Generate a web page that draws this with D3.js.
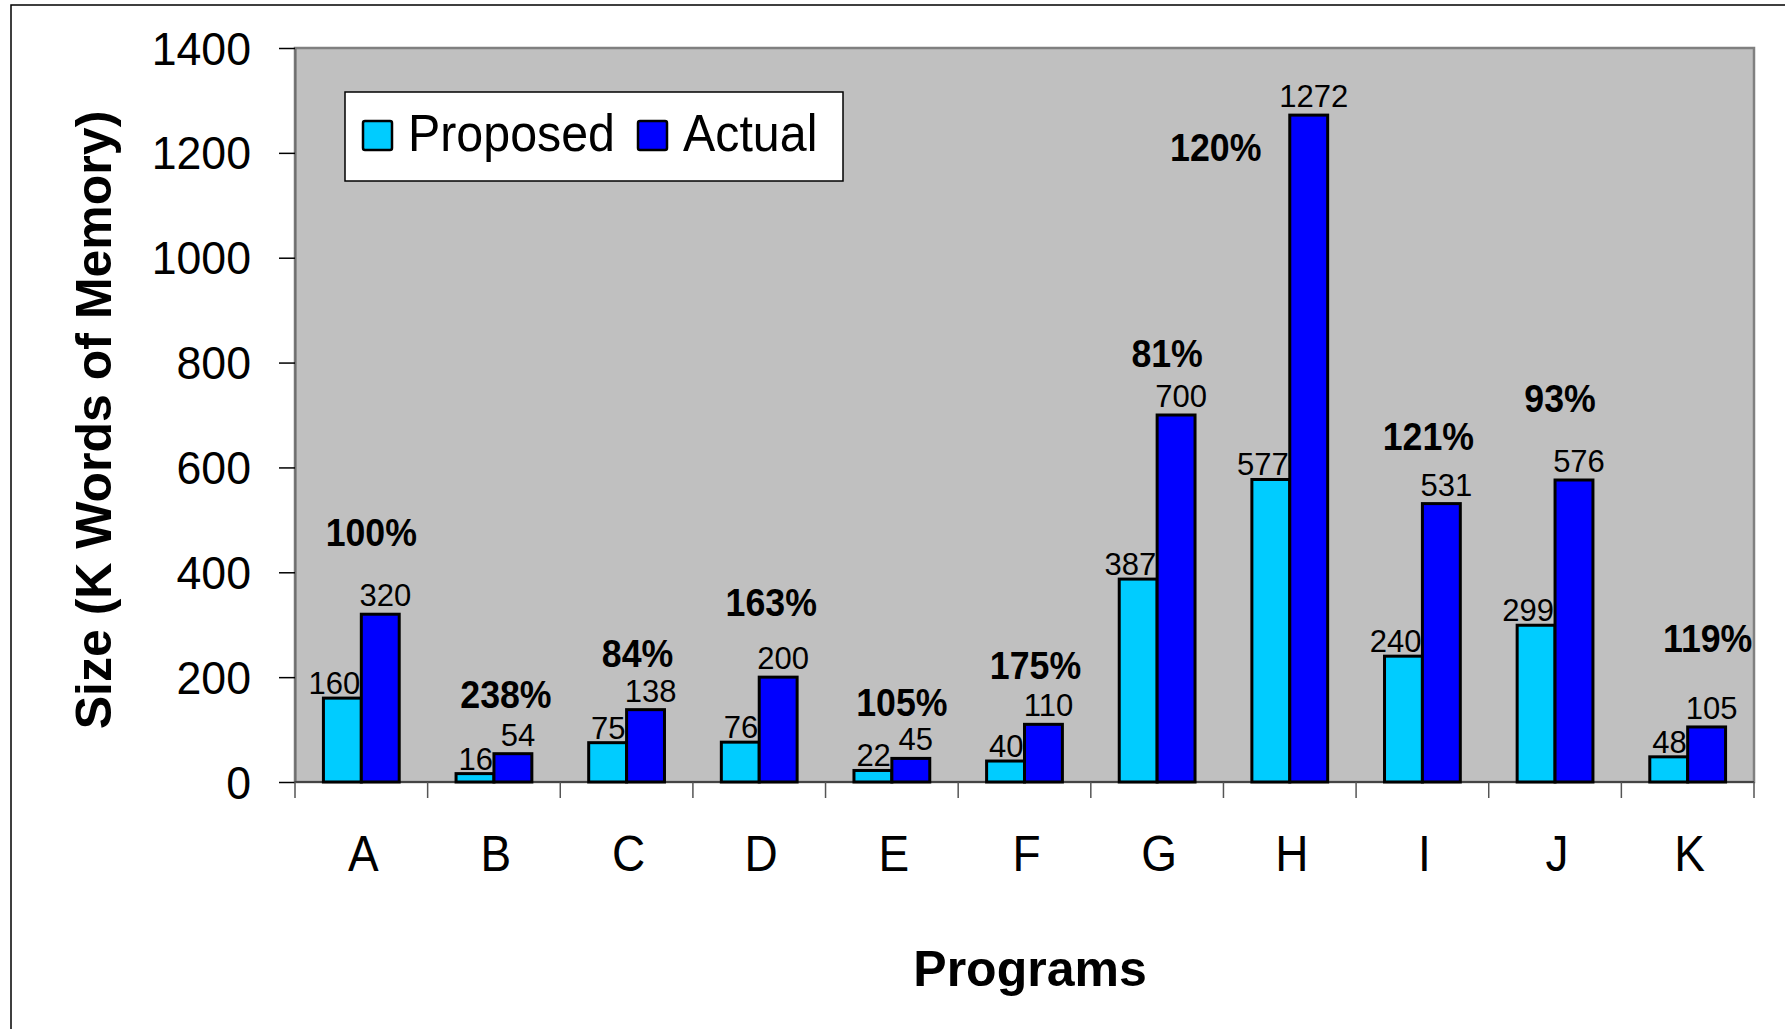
<!DOCTYPE html>
<html>
<head>
<meta charset="utf-8">
<script src="https://cdn.jsdelivr.net/npm/d3@7"></script>
<style>
  html, body { margin: 0; padding: 0; background: #fff; }
  svg { display: block; }
</style>
</head>
<body>
<svg id="chart" width="1785" height="1029"></svg>
<script>
// ---- data ----
const programs = ["A", "B", "C", "D", "E", "F", "G", "H", "I", "J", "K"];
const proposed = [160, 16, 75, 76, 22, 40, 387, 577, 240, 299, 48];
const actual   = [320, 54, 138, 200, 45, 110, 700, 1272, 531, 576, 105];
const growth   = ["100%", "238%", "84%", "163%", "105%", "175%", "81%", "120%", "121%", "93%", "119%"];
const yTicks   = [0, 200, 400, 600, 800, 1000, 1200, 1400];
const seriesNames = ["Proposed", "Actual"];

// growth annotation anchors: [horizontal nudge from group centre in px, baseline in data units]
const growthAnchor = [[10, 451], [12, 141], [11, 219], [12, 316], [10, 125], [11, 196],
                      [10, 791], [-74, 1185], [6, 634], [5, 706], [20, 248]];

// ---- layout ----
const W = 1785, H = 1029;
const plot = { left: 295, right: 1754, top: 48, bottom: 782 };
const FONT = "'Liberation Sans', Arial, Helvetica, sans-serif";
const colors = { Proposed: "#00CCFF", Actual: "#0000FF" };

const svg = d3.select("#chart");

// outer chart frame
svg.append("rect")
  .attr("x", 11).attr("y", 5).attr("width", W).attr("height", H)
  .attr("fill", "#fff").attr("stroke", "#000").attr("stroke-width", 1.5);

const x = d3.scaleBand().domain(programs).range([plot.left, plot.right]).paddingInner(0).paddingOuter(0);
const y = d3.scaleLinear().domain([0, 1400]).range([plot.bottom, plot.top]);
const bw = x.bandwidth();
const groupW = bw * 2 / 3.5;              // two bars, 150% gap
const xs = d3.scaleBand().domain(seriesNames).range([(bw - groupW) / 2, (bw + groupW) / 2]);

// text helper with optional horizontal condensing
function label(parent, s, px, py, size, opts = {}) {
  const sx = opts.sx || 1;
  const rot = opts.rotate ? ` rotate(${opts.rotate})` : "";
  return parent.append("text")
    .attr("transform", `translate(${px},${py})${rot} scale(${sx},1)`)
    .attr("text-anchor", opts.anchor || "middle")
    .attr("font-family", FONT)
    .attr("font-size", size)
    .attr("font-weight", opts.bold ? "bold" : "normal")
    .attr("fill", "#000")
    .text(s);
}

// plot area
svg.append("rect")
  .attr("x", plot.left).attr("y", plot.top)
  .attr("width", plot.right - plot.left).attr("height", plot.bottom - plot.top)
  .attr("fill", "#C0C0C0").attr("stroke", "#808080").attr("stroke-width", 2.5);

// y axis
const yAxis = svg.append("g")
  .attr("transform", `translate(${plot.left},0)`)
  .call(d3.axisLeft(y).tickValues(yTicks).tickSize(16).tickSizeOuter(0).tickFormat(d3.format("d")));
yAxis.select(".domain").attr("stroke", "#6e6e6e").attr("stroke-width", 2);
yAxis.selectAll(".tick line").attr("stroke", "#000").attr("stroke-width", 1.5);
yAxis.selectAll(".tick text")
  .attr("x", null).attr("dy", null)
  .attr("transform", "translate(-44,16) scale(0.95,1)")
  .attr("text-anchor", "end")
  .attr("font-family", FONT).attr("font-size", 47).attr("fill", "#000");

// x axis: baseline and ticks on category boundaries
const bounds = programs.map(p => x(p)).concat([x.range()[1]]);
const xAxis = svg.append("g");
xAxis.append("line")
  .attr("x1", plot.left).attr("x2", plot.right)
  .attr("y1", plot.bottom).attr("y2", plot.bottom)
  .attr("stroke", "#444").attr("stroke-width", 1.8);
xAxis.selectAll("line.tk").data(bounds).join("line").attr("class", "tk")
  .attr("x1", d => d).attr("x2", d => d)
  .attr("y1", plot.bottom).attr("y2", plot.bottom + 16)
  .attr("stroke", "#555").attr("stroke-width", 1.5);
programs.forEach(p => label(xAxis, p, x(p) + bw / 2 + 2, 871, 50, { sx: 0.92 }));

// bars
const rows = programs.map((p, i) => ({ p, i, Proposed: proposed[i], Actual: actual[i] }));
const groups = svg.append("g").selectAll("g").data(rows).join("g")
  .attr("transform", d => `translate(${x(d.p)},0)`);

groups.selectAll("rect")
  .data(d => seriesNames.map(k => ({ k, v: d[k] })))
  .join("rect")
  .attr("x", d => xs(d.k))
  .attr("y", d => y(d.v))
  .attr("width", xs.bandwidth())
  .attr("height", d => y(0) - y(d.v))
  .attr("fill", d => colors[d.k])
  .attr("stroke", "#000").attr("stroke-width", 3);

// value labels
groups.each(function (d) {
  const g = d3.select(this);
  label(g, String(d.Proposed), xs("Proposed") + xs.bandwidth() - 1, y(d.Proposed) - 4, 31, { anchor: "end" });
  label(g, String(d.Actual), xs("Actual") + xs.bandwidth() / 2 + 5, y(d.Actual) - 8, 31);
});

// growth annotations
groups.each(function (d) {
  const [dx, at] = growthAnchor[d.i];
  label(d3.select(this), growth[d.i], bw / 2 + dx, y(at), 38, { bold: true, sx: 0.94 });
});

// legend
const lg = svg.append("g");
lg.append("rect").attr("x", 345).attr("y", 92).attr("width", 498).attr("height", 89)
  .attr("fill", "#fff").attr("stroke", "#000").attr("stroke-width", 1.5);
const legendItems = [{ k: "Proposed", sw: 363, tx: 408 }, { k: "Actual", sw: 638, tx: 683 }];
legendItems.forEach(it => {
  lg.append("rect").attr("x", it.sw).attr("y", 121).attr("width", 29).attr("height", 29)
    .attr("rx", 2).attr("fill", colors[it.k]).attr("stroke", "#000").attr("stroke-width", 2.5);
  label(lg, it.k, it.tx, 151, 52, { anchor: "start", sx: 0.93 });
});

// axis titles
label(svg, "Programs", 1030, 986, 50, { bold: true });
label(svg, "Size (K Words of Memory)", 111, 420, 50, { bold: true, rotate: -90 });
</script>
</body>
</html>
